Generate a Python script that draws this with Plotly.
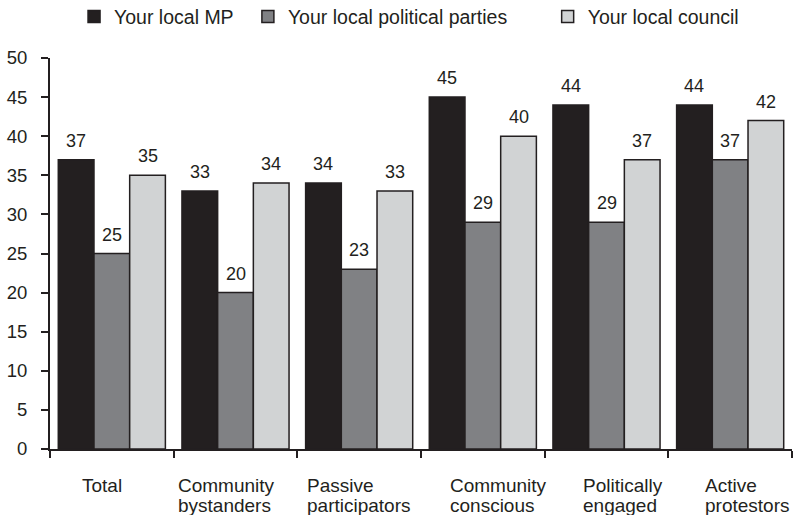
import plotly.graph_objects as go

categories = ["Total", "Community<br>bystanders", "Passive<br>participators",
              "Community<br>conscious", "Politically<br>engaged", "Active<br>protestors"]
series_names = ["Your local MP", "Your local political parties", "Your local council"]
mp_values = [37, 33, 34, 45, 44, 44]
parties_values = [25, 20, 23, 29, 29, 37]
council_values = [35, 34, 33, 40, 37, 42]
y_ticks = [0, 5, 10, 15, 20, 25, 30, 35, 40, 45, 50]

INK = "#231f20"
colors = ["#231f20", "#808184", "#d1d3d4"]
FONT = "Liberation Sans, Arial, sans-serif"

# x offsets (px) for the left-aligned category captions below the axis
caption_shift = [-32, -60, -54, -35, -26, -27]
# legend anchor positions (paper units) along the top
legend_x = [0.0324, 0.2667, 0.6707]

fig = go.Figure()
all_series = [mp_values, parties_values, council_values]
for i, (name, vals) in enumerate(zip(series_names, all_series)):
    fig.add_trace(go.Bar(
        x=categories, y=vals, name=name, showlegend=True,
        marker=dict(color=colors[i], line=dict(color=INK, width=1.5)),
        legend="legend" if i == 0 else f"legend{i + 1}",
        hoverinfo="x+y+name",
    ))

# value labels above the bars
n = len(all_series)
for i, vals in enumerate(all_series):
    for j, v in enumerate(vals):
        fig.add_annotation(
            x=categories[j], y=v, text=str(v), showarrow=False,
            xref="x", yref="y", yanchor="middle", yshift=19,
            xshift=(i - (n - 1) / 2) * 35.7,
            font=dict(family=FONT, size=18, color=INK),
        )

# category captions under the axis, one annotation per line for tight leading
for j, c in enumerate(categories):
    for k, line in enumerate(c.split("<br>")):
        fig.add_annotation(
            x=c, y=0, xref="x", yref="paper", text=line, showarrow=False,
            xanchor="left", yanchor="middle", yshift=-36 - 20 * k,
            xshift=caption_shift[j],
            font=dict(family=FONT, size=19, color=INK),
        )

legend_common = dict(orientation="h", y=1.155, yref="paper", yanchor="top",
                     xanchor="left", itemwidth=30,
                     font=dict(family=FONT, size=19.5, color=INK),
                     bgcolor="rgba(0,0,0,0)")
fig.update_layout(
    showlegend=True,
    legend=dict(x=legend_x[0], **legend_common),
    legend2=dict(x=legend_x[1], **legend_common),
    legend3=dict(x=legend_x[2], **legend_common),
)

fig.update_layout(
    width=796, height=515,
    margin=dict(l=50, r=4, t=58, b=66, autoexpand=False),
    paper_bgcolor="white", plot_bgcolor="white",
    barmode="group", bargap=0.134, bargroupgap=0,
    font=dict(family=FONT, size=18, color=INK),
    xaxis=dict(
        type="category", showticklabels=False, tickson="boundaries",
        ticks="outside", ticklen=7, tickwidth=2, tickcolor=INK,
        showline=True, linecolor=INK, linewidth=2, showgrid=False,
        range=[-0.5, 5.5],
    ),
    yaxis=dict(
        range=[0, 50], tickvals=y_ticks, ticks="outside", ticklen=7,
        tickwidth=2, tickcolor=INK, showline=True, linecolor=INK,
        linewidth=2, showgrid=False, zeroline=False,
        ticklabelstandoff=10,
        tickfont=dict(family=FONT, size=18.5, color=INK),
    ),
)

fig.write_html("out.html")
